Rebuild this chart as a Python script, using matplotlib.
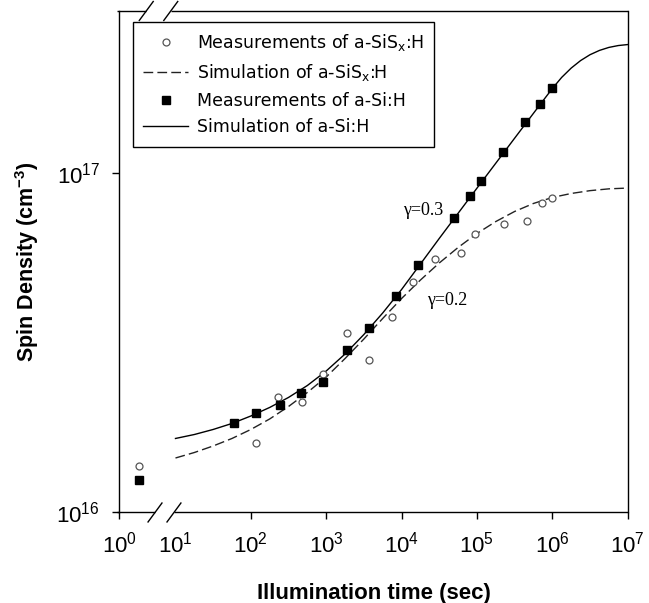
import numpy as np
import matplotlib
matplotlib.use("Agg")
import matplotlib.pyplot as plt
from matplotlib.lines import Line2D
from matplotlib.ticker import NullLocator

plt.rcParams["font.family"] = ["Liberation Sans", "DejaVu Sans"]
plt.rcParams["mathtext.default"] = "regular"

# ---- data (spin density in units of 1e16 cm^-3, time in s) ----
sim_si_time = [1e1, 1.78e1, 3.16e1, 5.62e1, 1e2, 1.78e2, 3.16e2, 5.62e2,
               1e3, 1.78e3, 3.16e3, 5.62e3, 1e4, 1.78e4, 3.16e4, 5.62e4,
               1e5, 1.78e5, 3.16e5, 4.22e5, 5.62e5, 7.50e5, 1e6, 1.33e6,
               1.78e6, 2.37e6, 3.16e6, 4.22e6, 5.62e6, 7.50e6, 1e7]
sim_si = [1.652, 1.697, 1.756, 1.829, 1.924, 2.039, 2.182, 2.366,
          2.611, 2.930, 3.344, 3.870, 4.538, 5.395, 6.415, 7.608,
          9.022, 10.69, 12.66, 13.78, 14.99, 16.31, 17.73, 19.12,
          20.37, 21.43, 22.30, 22.96, 23.43, 23.73, 23.89]

sim_sisx_time = [1e1, 1.78e1, 3.16e1, 5.62e1, 1e2, 1.78e2, 3.16e2, 5.62e2,
                 1e3, 1.78e3, 3.16e3, 5.62e3, 1e4, 1.78e4, 3.16e4, 5.62e4,
                 1e5, 1.78e5, 3.16e5, 5.62e5, 1e6, 1.78e6, 3.16e6, 5.62e6,
                 1e7]
sim_sisx = [1.447, 1.502, 1.570, 1.652, 1.756, 1.886, 2.052, 2.257,
            2.507, 2.842, 3.243, 3.728, 4.269, 4.839, 5.431, 6.034,
            6.634, 7.195, 7.702, 8.132, 8.469, 8.702, 8.870, 8.979, 9.027]

meas_si_time = [2.2, 59, 117, 240, 460, 910, 1870, 3700, 8500, 16300,
                49000, 80000, 114000, 219000, 435000, 680000, 990000]
meas_si = [1.25, 1.84, 1.97, 2.08, 2.25, 2.42, 3.00, 3.49, 4.33, 5.35,
           7.36, 8.54, 9.50, 11.55, 14.10, 15.97, 17.76]

meas_sisx_time = [2.2, 118, 232, 471, 918, 1870, 3715, 7360, 14200, 27600,
                  61100, 93700, 228000, 455000, 719000, 975000]
meas_sisx = [1.37, 1.60, 2.19, 2.11, 2.55, 3.37, 2.81, 3.77, 4.77, 5.58,
             5.80, 6.63, 7.08, 7.22, 8.14, 8.42]

x_decades = [0, 1, 2, 3, 4, 5, 6, 7]
y_decades = [16, 17]
UNIT = 1e16

# ---- broken log axis: the first decade is compressed ----
SQUEEZE = 0.743


def fwd(x):
    L = np.log10(np.maximum(np.asarray(x, dtype=float), 1e-300))
    return np.where(L >= 1, L, 1 - (1 - L) * SQUEEZE)


def inv(u):
    u = np.asarray(u, dtype=float)
    return 10 ** np.where(u >= 1, u, 1 - (1 - u) / SQUEEZE)


fig = plt.figure(figsize=(6.49, 6.03), dpi=100)
ax = fig.add_axes([0.1841, 0.1501, 0.7831, 0.8317])
ax.set_xscale("function", functions=(fwd, inv))
ax.set_yscale("log")

ax.plot(sim_sisx_time, np.array(sim_sisx) * UNIT, color="#222222", lw=1.0,
        dashes=(7, 3), zorder=2)
ax.plot(sim_si_time, np.array(sim_si) * UNIT, color="black", lw=1.0, zorder=2)
ax.plot(meas_sisx_time, np.array(meas_sisx) * UNIT, ls="none", marker="o",
        ms=5, mfc="white", mec="#555555", mew=0.9, zorder=3)
ax.plot(meas_si_time, np.array(meas_si) * UNIT, ls="none", marker="s",
        ms=6, mfc="black", mec="black", zorder=4)

ax.set_xlim(1, 1e7)
ax.set_ylim(1e16, 3.0e17)

ax.set_xticks([10.0 ** d for d in x_decades])
ax.set_xticklabels([f"$10^{{{d}}}$" for d in x_decades])
ax.xaxis.set_minor_locator(NullLocator())
ax.set_yticks([10.0 ** d for d in y_decades])
ax.set_yticklabels([f"$10^{{{d}}}$" for d in y_decades])
ax.yaxis.set_minor_locator(NullLocator())
ax.tick_params(axis="both", direction="out", length=5, width=1.0,
               labelsize=16, colors="black")
ax.tick_params(axis="x", pad=9)
ax.tick_params(axis="y", pad=9)
ax.tick_params(right=False, top=False)
ax.xaxis.get_major_ticks()[1].tick1line.set_visible(False)

ax.set_xlabel("Illumination time (sec)", fontsize=16, fontweight="bold",
              labelpad=18)
ax.set_ylabel("Spin Density (cm$^{-3}$)", fontsize=15.5, fontweight="bold",
              labelpad=11)

# spines with break marks on top and bottom
for side in ("top", "bottom"):
    ax.spines[side].set_visible(False)
for side in ("left", "right"):
    ax.spines[side].set_linewidth(1.0)

seg_kw = dict(transform=ax.transAxes, color="black", lw=1.0, clip_on=False,
              solid_capstyle="butt", zorder=5)
for y, b1, b2 in ((0.0, 0.0699, 0.1072), (1.0, 0.0527, 0.1009)):
    ax.plot([-0.004, b1], [y, y], **seg_kw)
    ax.plot([b2, 1.0], [y, y], **seg_kw)
    dx, dy = 0.0145, 0.02
    for b in (b1, b2):
        ax.plot([b - dx, b + dx], [y - dy, y + dy], **seg_kw)

ax.text(0.597, 0.603, "γ=0.3", transform=ax.transAxes, fontsize=13,
        family="Liberation Serif", ha="center", va="center")
ax.text(0.644, 0.422, "γ=0.2", transform=ax.transAxes, fontsize=13,
        family="Liberation Serif", ha="center", va="center")

handles = [
    Line2D([], [], ls="none", marker="o", ms=5, mfc="white", mec="#555555",
           mew=0.9),
    Line2D([], [], color="#222222", lw=1.0, dashes=(7, 3)),
    Line2D([], [], ls="none", marker="s", ms=6, mfc="black", mec="black"),
    Line2D([], [], color="black", lw=1.0),
]
labels = ["Measurements of a-SiS$_x$:H", "Simulation of a-SiS$_x$:H",
          "Measurements of a-Si:H", "Simulation of a-Si:H"]
leg = ax.legend(handles, labels, loc="upper left",
                bbox_to_anchor=(0.0266, 0.978), borderaxespad=0,
                prop={"family": ["DejaVu Sans"], "size": 12.5},
                frameon=True, fancybox=False,
                edgecolor="black", framealpha=1, handlelength=2.55,
                handletextpad=0.55, labelspacing=0.5, borderpad=0.6)
leg.get_frame().set_linewidth(1.0)

fig.savefig("out.png", dpi=100)
